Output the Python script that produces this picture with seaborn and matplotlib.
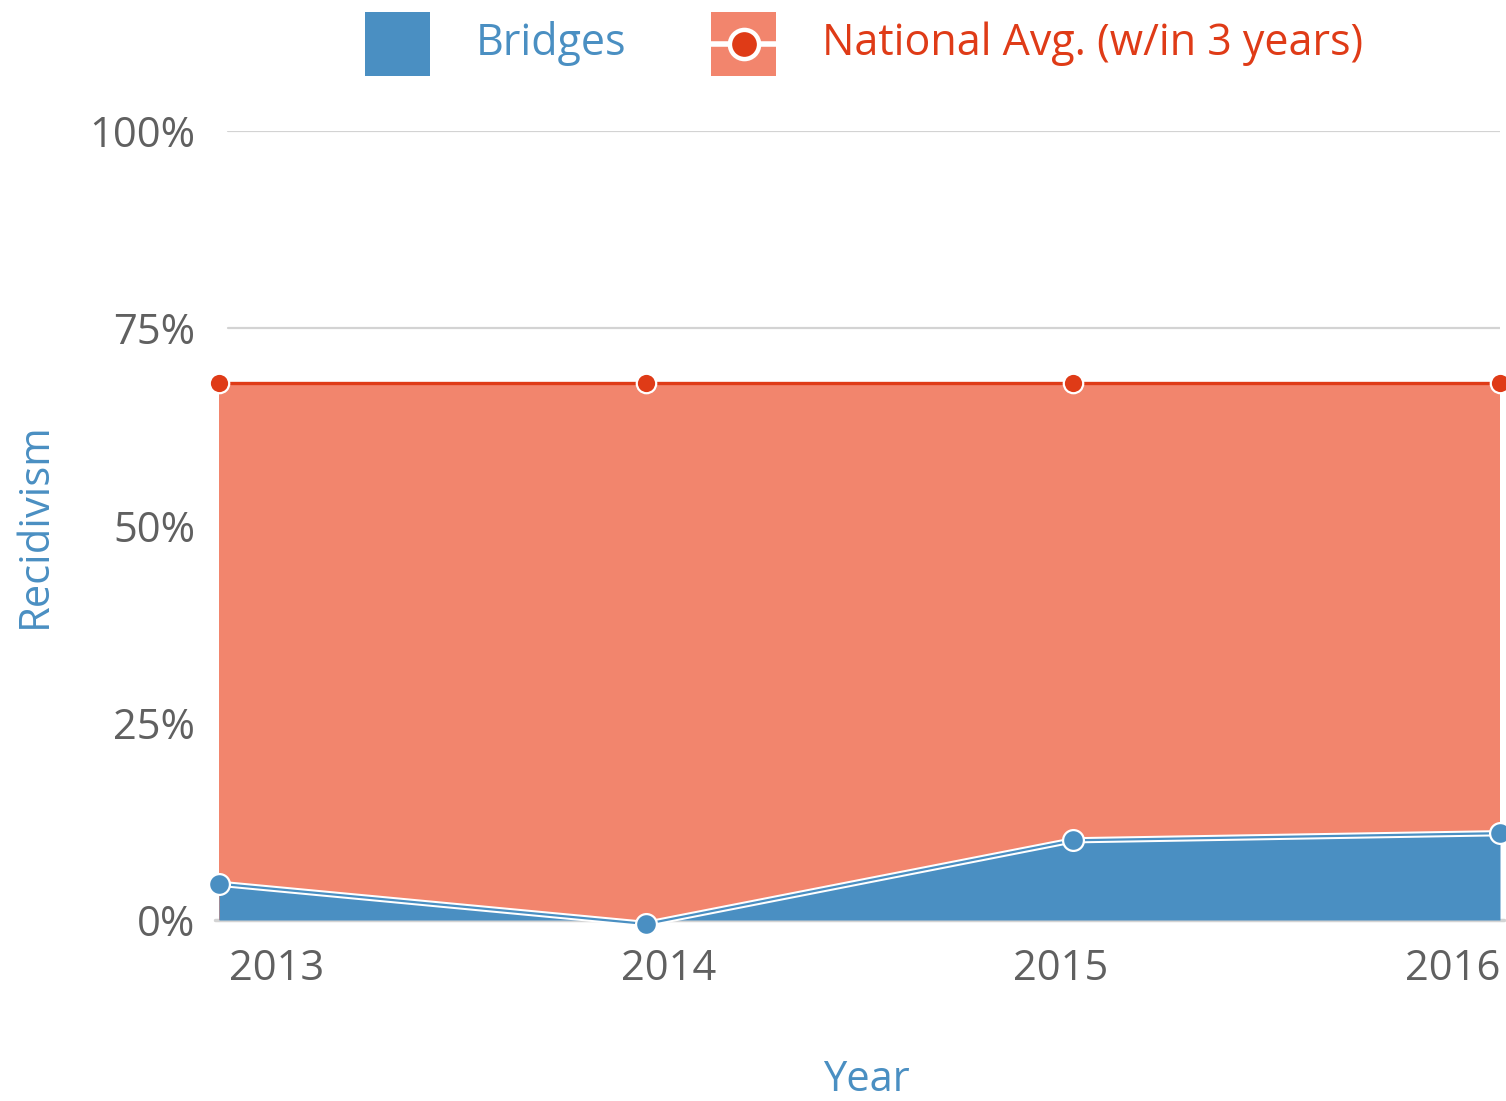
import numpy as np
import pandas as pd
import seaborn as sns
import matplotlib.pyplot as plt
from matplotlib.patches import Rectangle
from matplotlib.lines import Line2D

years = ["2013", "2014", "2015", "2016"]
bridges = [4.6, -0.5, 10.1, 11.0]
national = [68.0, 68.0, 68.0, 68.0]
y_ticks = [0, 25, 50, 75, 100]

BLUE = "#4a8fc2"
SALMON = "#f2856d"
RED = "#df3b17"
GRAY_TXT = "#606060"
FS = 30
W, H = 1506, 1101

sns.set_theme(style="white")
plt.rcParams["font.family"] = ["Open Sans", "DejaVu Sans"]

df = pd.DataFrame({"x": np.arange(len(years)), "bridges": bridges, "national": national})

fig = plt.figure(figsize=(W / 100, H / 100), dpi=100)
ax = fig.add_axes([219 / W, 1 - 920 / H, (1500 - 219) / W, (920 - 131) / H])
ax.set_xlim(0, 3)
ax.set_ylim(0, 100)

# gridlines + baseline
for t in y_ticks[1:]:
    ax.axhline(t, xmin=9 / 1281, xmax=1.0, color="#d3d3d3", lw=1.6, zorder=0)
ax.axhline(0, xmin=-4 / 1281, xmax=1.003, color="#d3d3d3", lw=2.5, zorder=0, clip_on=False)

# areas
ax.fill_between(df["x"], 0, df["national"], color=SALMON, lw=0, zorder=1)
ax.fill_between(df["x"], 0, df["bridges"], color=BLUE, lw=0, zorder=2)

# national line
sns.lineplot(data=df, x="x", y="national", ax=ax, color=RED, lw=2.4,
             marker="o", markersize=14, markeredgecolor="white", markeredgewidth=1.6,
             zorder=4, clip_on=False)
# bridges line with white casing
ax.plot(df["x"], df["bridges"], color="white", lw=4.5, zorder=3, clip_on=False)
sns.lineplot(data=df, x="x", y="bridges", ax=ax, color=BLUE, lw=1.6,
             marker="o", markersize=15, markeredgecolor="white", markeredgewidth=1.6,
             zorder=5, clip_on=False)

for s in ax.spines.values():
    s.set_visible(False)

ax.set_yticks(y_ticks)
ax.set_yticklabels([f"{t}%" for t in y_ticks], color=GRAY_TXT, fontsize=FS)
ax.tick_params(axis="y", length=0, pad=17)
ax.set_xticks(np.arange(len(years)) * 0.918 + 0.136)
ax.set_xticklabels(years, color=GRAY_TXT, fontsize=FS)
ax.tick_params(axis="x", length=0, pad=20)

ax.set_xlabel("")
ax.set_ylabel("")
fig.text(866 / W, 1 - 1080 / H, "Year", color=BLUE, fontsize=FS, ha="center", va="center")
fig.text(35 / W, 1 - 525 / H, "Recidivism", color=BLUE, fontsize=FS, ha="center",
         va="center", rotation=90)

# legend, drawn by hand in figure coords
def fx(px):
    return px / W

def fy(py):
    return 1 - py / H

fig.add_artist(Rectangle((fx(365), fy(76)), 65 / W, 64 / H, transform=fig.transFigure,
                         facecolor=BLUE, edgecolor="none"))
fig.text(fx(476), fy(44), "Bridges", color=BLUE, fontsize=31, ha="left", va="center")

fig.add_artist(Rectangle((fx(711), fy(76)), 65 / W, 64 / H, transform=fig.transFigure,
                         facecolor=SALMON, edgecolor="none"))
fig.add_artist(Line2D([fx(711), fx(776)], [fy(44), fy(44)], transform=fig.transFigure,
                      color="white", lw=4))
fig.add_artist(Line2D([fx(743.5)], [fy(44)], transform=fig.transFigure, lw=0,
                      marker="o", markersize=21, color=RED,
                      markeredgecolor="white", markeredgewidth=3.2))
fig.text(fx(822), fy(44), "National Avg. (w/in 3 years)", color=RED, fontsize=31,
         ha="left", va="center")

fig.savefig("out.png", dpi=100)
